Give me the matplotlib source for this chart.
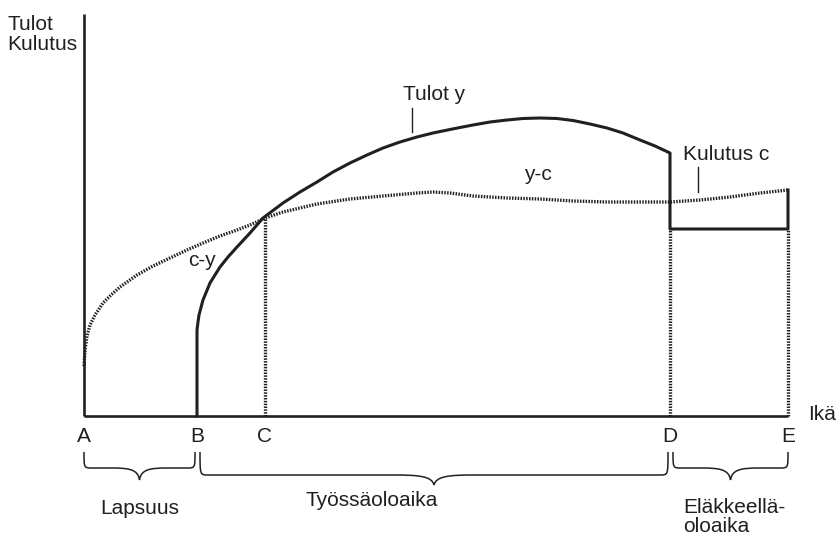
import numpy as np
import matplotlib.pyplot as plt
from matplotlib.path import Path
from matplotlib.patches import PathPatch

plt.rcParams['font.family'] = ['Liberation Sans', 'DejaVu Sans']

# Ikäpisteet (A..E) vaaka-akselilla
age_labels = ['A', 'B', 'C', 'D', 'E']
age_pos = [0, 113, 181, 586, 704]

# Tulot y (luettu kuvasta)
income_x = [113, 113, 114, 115, 119, 126, 136, 144, 153, 166, 179, 199, 216, 233, 249,
            266, 283, 299, 316, 333, 349, 366, 376, 389, 406, 423, 439, 456, 473, 489,
            506, 523, 539, 556, 571, 586, 586, 704, 704]
income_y = [0, 86, 94, 101, 116, 133, 149, 159, 169, 183, 198, 213, 224, 234, 244,
            253, 261, 268, 274, 279, 283, 286.5, 288.5, 291, 294, 296, 297.5, 298, 297.5, 295.5,
            292, 288, 283, 276, 270, 263, 187, 187, 226]

# Kulutus c
cons_x = [0, 1, 3, 6, 11, 19, 27, 36, 53, 69, 86, 103, 119, 136, 153, 166, 181,
          199, 233, 266, 299, 333, 349, 366, 389, 423, 456, 489, 523, 556, 586,
          616, 646, 676, 704]
cons_y = [50, 66, 80, 91, 101, 113, 121, 129, 141, 150, 158, 166, 173, 180, 186, 191, 198,
          204, 212, 217, 220, 223, 224, 223, 220, 218, 217, 215, 214, 214, 214,
          216, 219, 223, 226]

# Jaksot
periods = ['Lapsuus', 'Työssäoloaika', 'Eläkkeellä-\noloaika']

fig = plt.figure(figsize=(8.39, 5.39), dpi=100)
ax = fig.add_axes([0, 0, 1, 1])
ax.set_xlim(-84, 755)
ax.set_ylim(-123, 416)
ax.axis('off')

ink = '#231f20'
fs = 15

# akselit
ax.plot([0, 0], [0, 402], color=ink, lw=1.9, solid_capstyle='butt')
ax.plot([0, age_pos[-1]], [0, 0], color=ink, lw=1.9, solid_capstyle='butt')

# pystysuorat katkoviivat C, D, E
dot = dict(color=ink, lw=2.4, dashes=(0.45, 0.4))
ax.plot([age_pos[2], age_pos[2]], [0, cons_y[16]], **dot)
ax.plot([age_pos[3], age_pos[3]], [0, income_y[-3]], **dot)
ax.plot([age_pos[4], age_pos[4]], [0, income_y[-2]], **dot)

# kulutus ja tulot
ax.plot(cons_x, cons_y, **dot)
ax.plot(income_x, income_y, color=ink, lw=2.2, solid_joinstyle='round')

# tekstit
ax.text(-77, 401, 'Tulot\nKulutus', fontsize=fs, ha='left', va='top',
        linespacing=1.05, color=ink)
ax.text(319, 321, 'Tulot y', fontsize=fs, ha='left', va='center', color=ink)
ax.plot([328, 328], [284, 308], color=ink, lw=1.0)
ax.text(599, 261, 'Kulutus c', fontsize=fs, ha='left', va='center', color=ink)
ax.plot([614, 614], [224, 249], color=ink, lw=1.0)
ax.text(454, 241, 'y-c', fontsize=fs, ha='center', va='center', color=ink)
ax.text(118, 156, 'c-y', fontsize=fs, ha='center', va='center', color=ink)
ax.text(724, 2, 'Ikä', fontsize=fs, ha='left', va='center', color=ink)

for lab, xp in zip(age_labels, age_pos):
    ax.text(xp, -20, lab, fontsize=fs, ha='center', va='center', color=ink)


def brace(x0, x1, ytop, ybody, ytip):
    xm = (x0 + x1) / 2
    r = 8
    r2 = min(40, (x1 - x0) / 4)
    verts = [
        (x0, ytop), (x0, ybody), (x0, ybody), (x0 + r, ybody),
        (xm - r2, ybody),
        (xm - 0.4 * r2, ybody), (xm - 0.05 * r2, ybody + 0.1 * (ytip - ybody)), (xm, ytip),
        (xm + 0.05 * r2, ybody + 0.1 * (ytip - ybody)), (xm + 0.4 * r2, ybody), (xm + r2, ybody),
        (x1 - r, ybody),
        (x1, ybody), (x1, ybody), (x1, ytop),
    ]
    codes = [Path.MOVETO, Path.CURVE4, Path.CURVE4, Path.CURVE4,
             Path.LINETO,
             Path.CURVE4, Path.CURVE4, Path.CURVE4,
             Path.CURVE4, Path.CURVE4, Path.CURVE4,
             Path.LINETO,
             Path.CURVE4, Path.CURVE4, Path.CURVE4]
    ax.add_patch(PathPatch(Path(verts, codes), fill=False, edgecolor=ink, lw=1.1))


brace(age_pos[0], age_pos[1] - 2, -36, -52, -64)
brace(age_pos[1] + 3, age_pos[3] - 2, -36, -59, -69)
brace(age_pos[3] + 3, age_pos[4], -36, -52, -64)

ax.text(56, -92, periods[0], fontsize=fs, ha='center', va='center', color=ink)
ax.text(288, -84, periods[1], fontsize=fs, ha='center', va='center', color=ink)
ax.text(599, -101, periods[2], fontsize=fs, ha='left', va='center',
        linespacing=1.05, color=ink)

fig.savefig('out.png', dpi=100)
